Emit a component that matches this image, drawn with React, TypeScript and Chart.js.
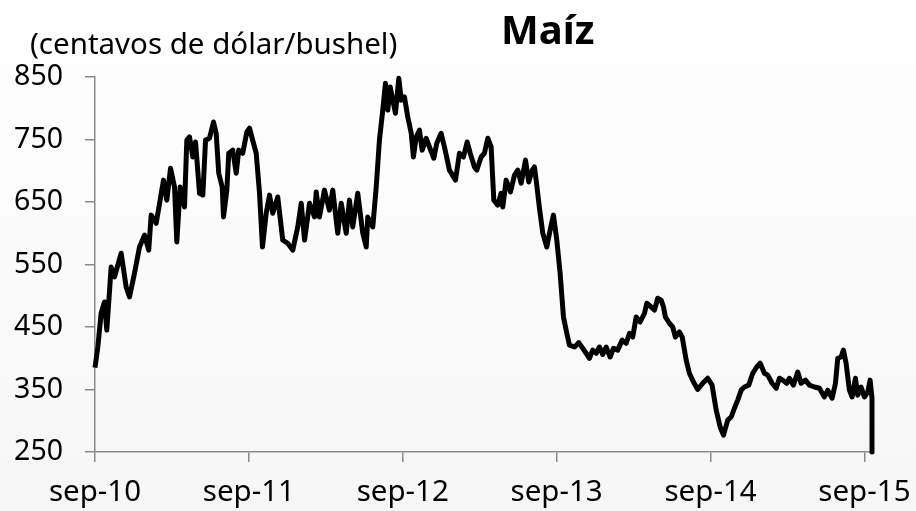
import React, { useEffect, useRef } from "react";
import { Chart, registerables } from "chart.js";

Chart.register(...registerables);

// Months elapsed since September 2010
const months = [
  0, 0.22, 0.48, 0.74, 0.92, 1.26, 1.52, 2.04, 2.43, 2.69, 3.08, 3.47, 3.86, 4.19, 4.38, 4.77,
  5.08, 5.34, 5.6, 5.89, 6.2, 6.38, 6.64, 6.98, 7.16, 7.37, 7.63, 7.84, 8.15, 8.41, 8.62, 8.93,
  9.24, 9.45, 9.65, 9.92, 10.02, 10.28, 10.43, 10.74, 11.01, 11.21, 11.52, 11.84, 12.05, 12.28,
  12.57, 12.83, 13.06, 13.35, 13.61, 13.86, 14.25, 14.64, 15.03, 15.42, 15.81, 16.08, 16.34,
  16.73, 17.12, 17.25, 17.5, 17.89, 18.28, 18.54, 18.93, 19.2, 19.59, 19.84, 20.1, 20.49, 20.88,
  21.15, 21.27, 21.66, 21.93, 22.18, 22.44, 22.65, 22.83, 23.02, 23.22, 23.43, 23.69, 23.88,
  24.13, 24.39, 24.66, 24.83, 25.05, 25.3, 25.51, 25.82, 26.08, 26.42, 26.65, 26.99, 27.25,
  27.64, 28.11, 28.42, 28.73, 29.02, 29.26, 29.59, 29.77, 30.11, 30.37, 30.63, 30.89, 31.1,
  31.41, 31.67, 31.8, 32.06, 32.4, 32.71, 32.97, 33.23, 33.57, 33.82, 34.09, 34.27, 34.43,
  34.66, 34.92, 35.23, 35.49, 35.75, 36.01, 36.27, 36.43, 36.53, 36.79, 37.0, 37.39, 37.72,
  38.03, 38.3, 38.56, 38.81, 39.08, 39.34, 39.59, 39.86, 40.17, 40.43, 40.76, 41.11, 41.42,
  41.68, 41.93, 42.2, 42.51, 42.85, 43.03, 43.37, 43.63, 43.88, 44.15, 44.33, 44.48, 44.79,
  45.05, 45.26, 45.57, 45.79, 46.1, 46.35, 46.67, 47.0, 47.39, 47.78, 48.12, 48.44, 48.75,
  49.01, 49.34, 49.61, 49.86, 50.12, 50.39, 50.64, 50.98, 51.29, 51.6, 51.87, 52.2, 52.46,
  52.8, 53.12, 53.37, 53.63, 53.94, 54.15, 54.46, 54.8, 55.06, 55.4, 55.71, 56.1, 56.49, 56.88,
  57.14, 57.48, 57.74, 57.92, 58.18, 58.36, 58.57, 58.83, 59.04, 59.3, 59.48, 59.74, 60.0,
  60.26, 60.44, 60.59, 60.59,
];

// Corn price, US cents per bushel
const prices = [
  385, 418, 472, 490, 445, 546, 530, 568, 514, 498, 536, 578, 597, 573, 629, 616,
  653, 685, 653, 704, 674, 586, 674, 642, 749, 754, 722, 746, 664, 661, 749, 752,
  778, 760, 696, 674, 626, 669, 728, 733, 696, 733, 728, 762, 768, 750,
  728, 664, 578, 632, 661, 632, 658, 589, 584, 573, 610, 648, 589,
  648, 626, 666, 626, 669, 637, 669, 600, 648, 600, 653, 610, 664, 600,
  578, 626, 610, 674, 749, 797, 840, 797, 834, 813, 792, 848, 813,
  818, 786, 760, 722, 754, 765, 733, 752, 738, 720, 744, 760, 738,
  701, 685, 728, 722, 746, 728, 706, 701, 722, 728, 752, 738, 653,
  645, 664, 642, 685, 666, 693, 701, 680, 717, 682, 701, 706, 680,
  640, 600, 578, 605, 629, 589, 536, 493, 466, 440, 421, 418, 425,
  416, 408, 400, 413, 408, 418, 406, 418, 402, 416, 413, 429, 424,
  440, 434, 466, 458, 472, 488, 482, 477, 496, 493, 482, 466, 456,
  450, 434, 442, 434, 397, 376, 362, 350, 360, 368, 357, 317, 290,
  277, 301, 306, 320, 333, 349, 354, 357, 376, 386, 392, 376, 373,
  360, 352, 368, 365, 360, 368, 357, 378, 360, 365, 357, 354, 352, 338,
  349, 336, 360, 400, 402, 413, 392, 349, 338, 368, 341, 354, 338,
  346, 365, 336, 250,
];

const xTickLabels = ["sep-10", "sep-11", "sep-12", "sep-13", "sep-14", "sep-15"];
const yMin = 250;
const yMax = 850;
const yStep = 100;
const titleText = "Maíz";
const unitText = "(centavos de dólar/bushel)";

const FONT = '"Noto Sans", "Open Sans", sans-serif';

export default function App() {
  const ref = useRef<HTMLCanvasElement>(null);

  useEffect(() => {
    if (!ref.current) return;
    const textPlugin = {
      id: "chartTexts",
      afterDraw(chart: any) {
        const ctx = chart.ctx as CanvasRenderingContext2D;
        ctx.save();
        ctx.fillStyle = "#000";
        ctx.textBaseline = "alphabetic";
        ctx.textAlign = "left";
        ctx.font = `bold 40px ${FONT}`;
        ctx.fillText(titleText, 501, 44);
        ctx.font = `29.5px ${FONT}`;
        ctx.fillText(unitText, 30, 54);
        ctx.restore();
      },
    };

    const chart = new Chart(ref.current, {
      type: "line",
      data: {
        datasets: [
          {
            data: months.map((m, i) => ({ x: m, y: prices[i] })),
            borderColor: "#000",
            borderWidth: 5,
            pointRadius: 0,
            tension: 0,
            fill: false,
            borderJoinStyle: "round",
            clip: 8,
          } as any,
        ],
      },
      options: {
        animation: false,
        responsive: false,
        maintainAspectRatio: false,
        layout: { padding: { left: 0, right: 44, top: 77, bottom: 0 } },
        plugins: {
          legend: { display: false },
          tooltip: { enabled: false },
          title: { display: false },
        },
        scales: {
          x: {
            type: "linear",
            min: 0,
            max: months[months.length - 1],
            afterFit: (s: any) => {
              s.height = 59;
              s.paddingLeft = 0;
              s.paddingRight = 0;
            },
            grid: {
              drawOnChartArea: false,
              drawTicks: true,
              tickLength: 10,
              color: "#8a8a8a",
              lineWidth: 1.5,
            },
            border: { color: "#8a8a8a", width: 1.5 },
            ticks: {
              stepSize: 12,
              includeBounds: false,
              autoSkip: false,
              maxRotation: 0,
              padding: 13,
              color: "#000",
              font: { family: FONT, size: 29.5 },
              callback: (v: any) => xTickLabels[Math.round(Number(v) / 12)] ?? "",
            },
          },
          y: {
            type: "linear",
            min: yMin,
            max: yMax,
            afterFit: (s: any) => {
              s.width = 95;
              s.paddingTop = 0;
              s.paddingBottom = 0;
            },
            grid: {
              drawOnChartArea: false,
              drawTicks: true,
              tickLength: 10,
              color: "#8a8a8a",
              lineWidth: 1.5,
            },
            border: { color: "#8a8a8a", width: 1.5 },
            ticks: {
              stepSize: yStep,
              padding: 22,
              color: "#000",
              font: { family: FONT, size: 28.5 },
            },
          },
        },
      } as any,
      plugins: [textPlugin],
    });
    return () => chart.destroy();
  }, []);

  return (
    <div
      style={{
        position: "fixed",
        left: 0,
        top: 0,
        width: 916,
        height: 511,
        background: "linear-gradient(#ffffff, #f6f6f6)",
      }}
    >
      <canvas ref={ref} width={916} height={511} style={{ display: "block" }} />
    </div>
  );
}
